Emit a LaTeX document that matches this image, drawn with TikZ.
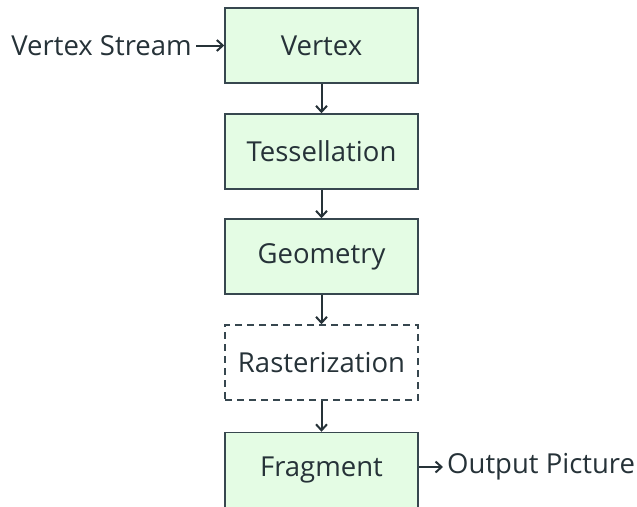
\documentclass[tikz,border=0pt]{standalone}
\usepackage{fontspec}
\setmainfont{Open Sans}
\usetikzlibrary{arrows.meta}
\definecolor{boxfill}{HTML}{E4FCE4}
\definecolor{boxline}{HTML}{37474F}
\definecolor{txt}{HTML}{263238}
\tikzset{
  stage/.style={draw=boxline, line width=1.5pt, fill=boxfill, minimum width=193pt, minimum height=75pt, inner sep=0pt, text=txt, font=\fontsize{27.5}{32}\selectfont},
  dstage/.style={stage, fill=none, dashed, dash pattern=on 7pt off 5pt},
  lbl/.style={text=txt, font=\fontsize{27.5}{32}\selectfont, inner sep=4pt},
  conn/.style={draw=txt, line width=2pt, -{Straight Barb[length=6pt,width=11pt,line width=2pt]}}
}
\begin{document}
\begin{tikzpicture}[x=1pt,y=1pt]
\useasboundingbox (0,0) rectangle (637,-506);
\node[stage] (v) at (321.5,-45.5) {Vertex};
\node[stage] (t) at (321.5,-151.5) {Tessellation};
\node[stage] (g) at (321.5,-256.5) {Geometry};
\node[dstage] (r) at (321.5,-362.5) {Rasterization};
\node[stage] (f) at (321.5,-470) {Fragment};
\node[lbl, anchor=east] (vs) at (196,-45.5) {Vertex Stream};
\node[lbl, anchor=west] (op) at (443,-467) {Output Picture};
\draw[conn] (vs) -- (v);
\draw[conn] (v) -- (t);
\draw[conn] (t) -- (g);
\draw[conn] (g) -- (r);
\draw[conn] (r) -- (f);
\draw[conn] (f.east |- op) -- (op);
\end{tikzpicture}
\end{document}
